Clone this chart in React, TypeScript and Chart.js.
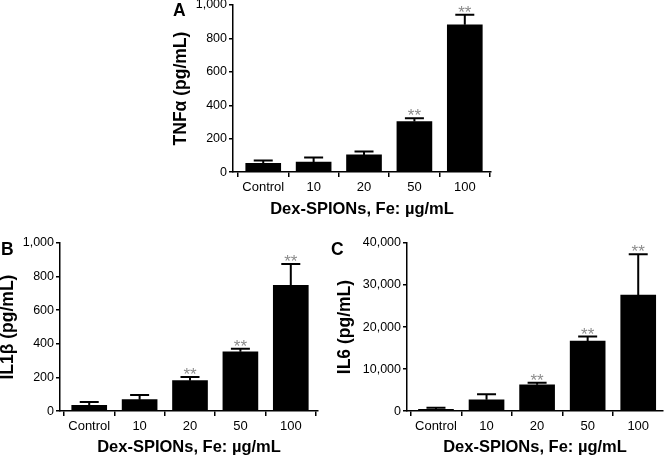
import React, { useEffect, useRef } from "react";
import { Chart, registerables } from "chart.js";

Chart.register(...registerables);

// ---------- data ----------
const categories = ["Control", "10", "20", "50", "100"];
const xAxisTitle = "Dex-SPIONs, Fe: µg/mL";

const tnfMeans = [52, 60, 103, 303, 882];
const tnfErrors = [18, 27, 21, 20, 60];
const tnfSig = ["", "", "", "**", "**"];

const il1bMeans = [34, 68, 181, 353, 748];
const il1bErrors = [20, 28, 22, 18, 127];
const il1bSig = ["", "", "**", "**", "**"];

const il6Means = [450, 2700, 6250, 16650, 27600];
const il6Errors = [350, 1300, 500, 1100, 9700];
const il6Sig = ["", "", "**", "**", "**"];

// ---------- styling ----------
const FONT = "'Liberation Sans', Arial, Helvetica, sans-serif";
const Y_TICK_SIZE = 12.5;
const X_TICK_SIZE = 13;
const X_TITLE_SIZE = 16.5;
const Y_TITLE_SIZE = 17.5;
const LEFT_EXTRA = 120;
const TOP_EXTRA = 30;
const RIGHT_EXTRA = 30;
const BOTTOM_EXTRA = 20;

type Area = { l: number; r: number; t: number; b: number };
type PanelSpec = {
  letter: string;
  yTitle: string;
  means: number[];
  errors: number[];
  sig: string[];
  yMax: number;
  yStep: number;
  area: Area;
  xMin: number;
  xMax: number;
  yTitleX: number;
  xTitleY: number;
  letterX: number;
  letterBase: number;
};

const panels: PanelSpec[] = [
  {
    letter: "A",
    yTitle: "TNFα (pg/mL)",
    means: tnfMeans,
    errors: tnfErrors,
    sig: tnfSig,
    yMax: 1000,
    yStep: 200,
    area: { l: 233, r: 491, t: 5, b: 172 },
    xMin: -0.6,
    xMax: 4.52,
    yTitleX: 181,
    xTitleY: 209,
    letterX: 173,
    letterBase: 16,
  },
  {
    letter: "B",
    yTitle: "IL1β (pg/mL)",
    means: il1bMeans,
    errors: il1bErrors,
    sig: il1bSig,
    yMax: 1000,
    yStep: 200,
    area: { l: 60, r: 318, t: 243, b: 411 },
    xMin: -0.58,
    xMax: 4.54,
    yTitleX: 8.5,
    xTitleY: 447,
    letterX: 1,
    letterBase: 255,
  },
  {
    letter: "C",
    yTitle: "IL6 (pg/mL)",
    means: il6Means,
    errors: il6Errors,
    sig: il6Sig,
    yMax: 40000,
    yStep: 10000,
    area: { l: 407, r: 663, t: 243, b: 411 },
    xMin: -0.573,
    xMax: 4.49,
    yTitleX: 345.5,
    xTitleY: 447,
    letterX: 331,
    letterBase: 255,
  },
];

const errorBarPlugin = {
  id: "errbars",
  afterDatasetsDraw(chart: any, _args: any, opts: any) {
    const { ctx } = chart;
    const meta = chart.getDatasetMeta(0);
    const yScale = chart.scales.y;
    ctx.save();
    meta.data.forEach((bar: any, i: number) => {
      const mean = opts.means[i];
      const top = yScale.getPixelForValue(mean + opts.errors[i]);
      const base = yScale.getPixelForValue(mean);
      ctx.strokeStyle = "#000";
      ctx.lineWidth = 2;
      ctx.beginPath();
      ctx.moveTo(bar.x, base);
      ctx.lineTo(bar.x, top);
      ctx.moveTo(bar.x - 9.5, top);
      ctx.lineTo(bar.x + 9.5, top);
      ctx.stroke();
      if (opts.sig[i]) {
        ctx.fillStyle = "#8c8c8c";
        ctx.font = `17px ${FONT}`;
        ctx.textAlign = "center";
        ctx.textBaseline = "alphabetic";
        ctx.fillText(opts.sig[i], bar.x, top + 3);
      }
    });
    ctx.restore();
  },
  afterDraw(chart: any, _args: any, opts: any) {
    const { ctx } = chart;
    ctx.save();
    ctx.fillStyle = "#000";
    ctx.font = `bold 17.5px ${FONT}`;
    ctx.textAlign = "left";
    ctx.textBaseline = "alphabetic";
    ctx.fillText(opts.letter, opts.letterX, opts.letterBase);
    ctx.restore();
  },
};

function Panel({ spec }: { spec: PanelSpec }) {
  const ref = useRef<HTMLCanvasElement | null>(null);
  const { area } = spec;
  const lhX = X_TITLE_SIZE * 1.2;
  const lhY = Y_TITLE_SIZE * 1.2;
  const xH = spec.xTitleY + lhX / 2 - area.b;
  const cLeft = area.l - LEFT_EXTRA;
  const cTop = area.t - TOP_EXTRA;
  const cW = LEFT_EXTRA + (area.r - area.l) + RIGHT_EXTRA;
  const cH = TOP_EXTRA + (area.b - area.t) + xH + BOTTOM_EXTRA;
  const yTitlePad = spec.yTitleX - cLeft - lhY / 2;

  useEffect(() => {
    if (!ref.current) return;
    const chart = new Chart(ref.current, {
      type: "bar",
      data: {
        datasets: [
          {
            data: spec.means.map((v, i) => ({ x: i, y: v })),
            backgroundColor: "#000",
            borderWidth: 0,
            barThickness: 35,
          },
        ],
      },
      options: {
        animation: false,
        responsive: false,
        devicePixelRatio: 1,
        layout: {
          padding: { left: 0, top: TOP_EXTRA, right: RIGHT_EXTRA, bottom: BOTTOM_EXTRA },
        },
        plugins: {
          legend: { display: false },
          tooltip: { enabled: false },
          errbars: {
            means: spec.means,
            errors: spec.errors,
            sig: spec.sig,
            letter: spec.letter,
            letterX: spec.letterX - cLeft,
            letterBase: spec.letterBase - cTop,
          },
        } as any,
        scales: {
          x: {
            type: "linear",
            min: spec.xMin,
            max: spec.xMax,
            offset: false,
            afterBuildTicks: (scale: any) => {
              scale.ticks = categories.map((_, i) => ({ value: i }));
            },
            afterFit: (scale: any) => {
              scale.height = xH;
            },
            ticks: {
              callback: (value: any) => categories[Math.round(Number(value))],
              font: { family: FONT, size: X_TICK_SIZE },
              color: "#000",
              padding: 3,
              maxRotation: 0,
              autoSkip: false,
            },
            grid: {
              display: true,
              drawOnChartArea: false,
              drawTicks: true,
              tickLength: 5,
              color: "#000",
              lineWidth: 1.5,
            },
            border: { display: true, color: "#000", width: 1.5 },
            title: {
              display: true,
              text: xAxisTitle,
              font: { family: FONT, size: X_TITLE_SIZE, weight: "bold" },
              color: "#000",
              padding: { top: 0, bottom: 0 },
            },
          },
          y: {
            type: "linear",
            min: 0,
            max: spec.yMax,
            afterFit: (scale: any) => {
              scale.width = LEFT_EXTRA;
            },
            ticks: {
              stepSize: spec.yStep,
              callback: (value: any) => Number(value).toLocaleString("en-US"),
              font: { family: FONT, size: Y_TICK_SIZE },
              color: "#000",
              padding: 2,
            },
            grid: {
              display: true,
              drawOnChartArea: false,
              drawTicks: true,
              tickLength: 4,
              color: "#000",
              lineWidth: 1.5,
            },
            border: { display: true, color: "#000", width: 1.5 },
            title: {
              display: true,
              text: spec.yTitle,
              font: { family: FONT, size: Y_TITLE_SIZE, weight: "bold" },
              color: "#000",
              padding: { top: yTitlePad, bottom: 0 },
            },
          },
        },
      } as any,
      plugins: [errorBarPlugin],
    });
    return () => chart.destroy();
  }, []);

  return (
    <canvas
      ref={ref}
      width={Math.round(cW)}
      height={Math.round(cH)}
      style={{
        position: "absolute",
        left: cLeft,
        top: cTop,
        width: Math.round(cW),
        height: Math.round(cH),
      }}
    />
  );
}

export default function App() {
  return (
    <div
      style={{
        position: "fixed",
        left: 0,
        top: 0,
        width: 665,
        height: 457,
        overflow: "hidden",
        background: "#fff",
      }}
    >
      {panels.map((p) => (
        <Panel key={p.letter} spec={p} />
      ))}
    </div>
  );
}
